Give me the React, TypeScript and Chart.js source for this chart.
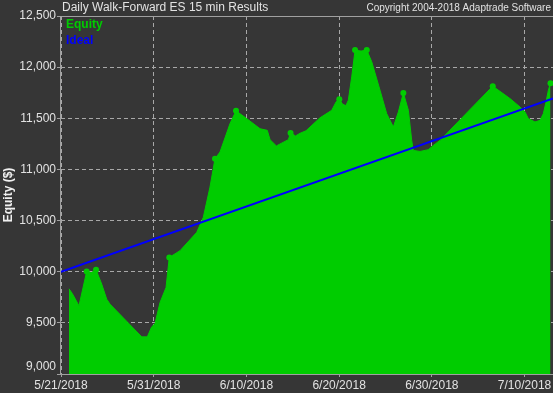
import React, { useEffect, useRef } from 'react';
import { Chart, registerables } from 'chart.js';

Chart.register(...registerables);

// Days since 5/21/2018
const equityDays = [
  0.86, 1.22, 1.94, 2.77, 3.25, 3.78, 4.39, 4.93, 5.29, 8.71, 9.31, 9.78, 10.14, 10.68,
  11.33, 11.68, 12.84, 14.64, 15.35, 16.07, 16.61, 17.15, 18.23, 18.88, 20.03, 21.47,
  22.25, 22.55, 23.23, 24.52, 24.76, 25.3, 25.78, 26.43, 27.94, 29.2, 29.67, 30.02,
  30.39, 30.74, 30.99, 31.36, 31.72, 32.36, 32.98, 33.52, 34.41, 35.13, 35.85, 36.39,
  36.93, 37.47, 37.83, 38.0, 38.73, 39.62, 40.16, 40.88, 46.57, 47.28, 48.43, 49.51,
  50.05, 50.41, 51.13, 51.67, 52.03, 52.32, 52.57, 52.8,
];
const equityValues = [
  9833, 9787, 9667, 10003, 9990, 10020, 9879, 9732, 9683, 9363, 9363, 9461, 9493, 9699,
  9846, 10140, 10206, 10385, 10532, 10827, 11105, 11170, 11448, 11573, 11497, 11398,
  11382, 11291, 11230, 11291, 11356, 11328, 11353, 11378, 11505, 11578, 11660, 11686,
  11637, 11624, 11676, 11905, 12167, 12157, 12167, 12052, 11775, 11546, 11415, 11562,
  11748, 11578, 11284, 11186, 11176, 11193, 11235, 11284, 11814, 11768, 11693, 11611,
  11562, 11497, 11464, 11480, 11546, 11660, 11775, 11843,
];
const markerIndices = [3, 5, 15, 20, 23, 30, 37, 42, 44, 50, 58, 69];

const idealDays = [0, 53.07];
const idealValues = [10000, 11695];

const xMin = 0;
const xMax = 53.07;
const xTickDays = [0, 10, 20, 30, 40, 50];
const xTickLabels = ['5/21/2018', '5/31/2018', '6/10/2018', '6/20/2018', '6/30/2018', '7/10/2018'];

const yMin = 9000;
const yMax = 12500;
const yTickValues = [9000, 9500, 10000, 10500, 11000, 11500, 12000, 12500];
const yTickLabels = ['9,000', '9,500', '10,000', '10,500', '11,000', '11,500', '12,000', '12,500'];

const titleText = 'Daily Walk-Forward ES 15 min Results';
const copyrightText = 'Copyright 2004-2018 Adaptrade Software';
const yAxisTitle = 'Equity ($)';
const legendLabels = ['Equity', 'Ideal'];

const BG = '#363636';
const GREEN = '#00cc00';
const BLUE = '#0000ff';
const TEXT = '#e2e2e2';
const GRID = '#a8a8a8';
const AXIS = '#a0a0a0';
const FONT = "'Liberation Sans', Arial, sans-serif";

export default function App() {
  const ref = useRef<HTMLCanvasElement | null>(null);

  useEffect(() => {
    const canvas = ref.current;
    if (!canvas) return;
    const markers = new Set(markerIndices);

    const decor = {
      id: 'decor',
      beforeDraw(chart: any) {
        const ctx = chart.ctx;
        ctx.save();
        ctx.fillStyle = BG;
        ctx.fillRect(0, 0, chart.width, chart.height);
        ctx.restore();
      },
      afterDraw(chart: any) {
        const ctx = chart.ctx;
        const a = chart.chartArea;
        const ys = chart.scales.y;
        ctx.save();
        // frame lines
        ctx.setLineDash([]);
        ctx.strokeStyle = AXIS;
        ctx.lineWidth = 1;
        ctx.beginPath();
        ctx.moveTo(a.left - 0.5, a.top + 0.5);
        ctx.lineTo(a.right, a.top + 0.5);
        ctx.moveTo(a.left - 0.5, a.top);
        ctx.lineTo(a.left - 0.5, a.bottom + 1);
        ctx.moveTo(a.left - 0.5, a.bottom + 0.5);
        ctx.lineTo(a.right, a.bottom + 0.5);
        ctx.stroke();

        // title & copyright
        ctx.fillStyle = TEXT;
        ctx.textBaseline = 'middle';
        ctx.font = `12px ${FONT}`;
        ctx.textAlign = 'left';
        ctx.fillText(titleText, 62, 8);
        ctx.font = `10px ${FONT}`;
        ctx.textAlign = 'right';
        ctx.fillText(copyrightText, 551, 8);

        // legend
        ctx.textAlign = 'left';
        ctx.font = `bold 12px ${FONT}`;
        ctx.fillStyle = GREEN;
        ctx.fillText(legendLabels[0], 66, 25);
        ctx.fillStyle = BLUE;
        ctx.fillText(legendLabels[1], 66, 41);

        // y tick labels
        ctx.fillStyle = TEXT;
        ctx.font = `12px ${FONT}`;
        ctx.textAlign = 'right';
        yTickValues.forEach((v, i) => {
          const py = Math.min(ys.getPixelForValue(v), a.bottom - 7);
          ctx.fillText(yTickLabels[i], 56, py);
        });

        // y axis title
        ctx.translate(9, (a.top + a.bottom) / 2);
        ctx.rotate(-Math.PI / 2);
        ctx.textAlign = 'center';
        ctx.font = `bold 12px ${FONT}`;
        ctx.fillStyle = '#f0f0f0';
        ctx.fillText(yAxisTitle, 0, 0);
        ctx.restore();
      },
    };

    const chart = new Chart(canvas, {
      type: 'line',
      data: {
        datasets: [
          {
            label: legendLabels[1],
            data: idealDays.map((d, i) => ({ x: d, y: idealValues[i] })),
            borderColor: BLUE,
            borderWidth: 2,
            pointRadius: 0,
            fill: false,
            order: 0,
          },
          {
            label: legendLabels[0],
            data: equityDays.map((d, i) => ({ x: d, y: equityValues[i] })),
            borderColor: GREEN,
            backgroundColor: GREEN,
            borderWidth: 1,
            fill: 'start',
            tension: 0,
            pointRadius: (c: any) => (markers.has(c.dataIndex) ? 3 : 0),
            pointBackgroundColor: GREEN,
            pointBorderColor: GREEN,
            pointBorderWidth: 0,
            order: 1,
          },
        ],
      },
      options: {
        animation: false,
        responsive: false,
        devicePixelRatio: 1,
        layout: { autoPadding: false, padding: { top: 16, left: 0, right: 0, bottom: 0 } },
        plugins: {
          legend: { display: false },
          title: { display: false },
          tooltip: { enabled: false },
        },
        scales: {
          x: {
            type: 'linear',
            min: xMin,
            max: xMax,
            afterBuildTicks: (s: any) => {
              s.ticks = xTickDays.map((v) => ({ value: v }));
            },
            afterFit: (s: any) => {
              s.height = 19;
              s.paddingLeft = 0;
              s.paddingRight = 0;
            },
            ticks: {
              callback: (_v: any, i: number) => xTickLabels[i],
              color: TEXT,
              font: { family: FONT, size: 12 },
              maxRotation: 0,
              autoSkip: false,
              padding: 1,
            },
            grid: {
              color: GRID,
              drawTicks: true,
              tickLength: 3,
              tickColor: AXIS,
              tickBorderDash: [],
            },
            border: { display: false, dash: [4, 3] },
          },
          y: {
            type: 'linear',
            min: yMin,
            max: yMax,
            afterBuildTicks: (s: any) => {
              s.ticks = yTickValues.map((v) => ({ value: v }));
            },
            afterFit: (s: any) => {
              s.width = 61;
              s.paddingTop = 0;
              s.paddingBottom = 0;
            },
            ticks: { display: false },
            grid: {
              color: GRID,
              drawTicks: true,
              tickLength: 4,
              tickColor: AXIS,
              tickBorderDash: [],
            },
            border: { display: false, dash: [4, 3] },
          },
        },
      },
      plugins: [decor],
    });

    return () => chart.destroy();
  }, []);

  return (
    <div style={{ position: 'fixed', left: 0, top: 0, width: 553, height: 393, background: BG }}>
      <canvas ref={ref} width={553} height={393} style={{ display: 'block' }} />
    </div>
  );
}
